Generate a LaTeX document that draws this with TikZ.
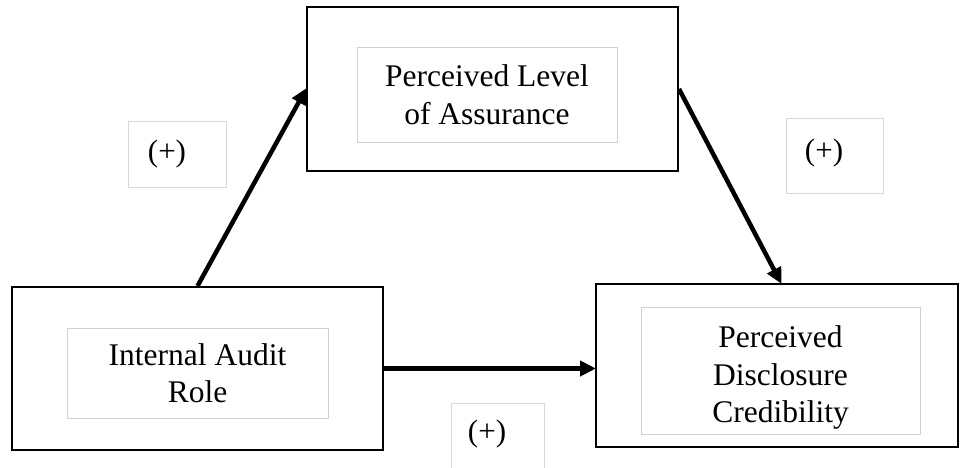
\documentclass[tikz,border=0pt]{standalone}
\usepackage{fontspec}
\setmainfont{Liberation Serif}
\usetikzlibrary{arrows.meta,calc}
\begin{document}
\begin{tikzpicture}[x=1pt,y=-1pt,
  outerbox/.style={draw=black,line width=2pt,fill=white,minimum width=#1,inner sep=0pt},
  innerbox/.style={draw=black!18,line width=0.8pt,fill=white,inner sep=0pt,align=center,font=\fontsize{31.5}{37.5}\selectfont},
  plaintext/.style={inner sep=0pt,align=center,font=\fontsize{31.5}{37.5}\selectfont},
  signbox/.style={draw=black!15,line width=0.8pt,fill=white,inner sep=0pt},
  signtext/.style={font=\fontsize{31}{36}\selectfont,inner sep=0pt},
  link/.style={line width=4.5pt,-{Triangle[length=16pt,width=15pt]},shorten >=-1pt}]
\useasboundingbox (0,0) rectangle (960,467);
% outer boxes
\node[outerbox=371pt,minimum height=164pt] (top) at (492.5,89) {};
\node[outerbox=371pt,minimum height=163pt] (left) at (197.5,368.5) {};
\node[outerbox=362pt,minimum height=163pt] (right) at (777,365.5) {};
% inner text boxes
\node[innerbox,minimum width=260pt,minimum height=95pt] (topt) at (487,94.5) {Perceived Level\\of Assurance};
\node[innerbox,minimum width=261pt,minimum height=90pt] (leftt) at (197.5,373) {Internal Audit\\Role};
\node[innerbox,minimum width=279pt,minimum height=127pt] (rightt) at (780.5,370.5) {};
\node[plaintext] (righttext) at (780.5,377.5) {Perceived\\Disclosure\\Credibility};
% sign labels
\node[signbox,minimum width=98pt,minimum height=66pt] (s1) at (177,154) {};
\node[signtext] (s1t) at (167,154) {(+)};
\node[signbox,minimum width=97pt,minimum height=75pt] (s2) at (834.5,155.5) {};
\node[signtext] (s2t) at (824,153) {(+)};
\node[signbox,minimum width=93pt,minimum height=80pt] (s3) at (497.5,443) {};
\node[signtext] (s3t) at (487,434) {(+)};
% connectors
\draw[link] (left.north) -- (top.west);
\draw[link] (top.east) -- ($(right.north)+(4,0)$);
\draw[link] (left.east) -- (left.east -| right.west);
\end{tikzpicture}
\end{document}
